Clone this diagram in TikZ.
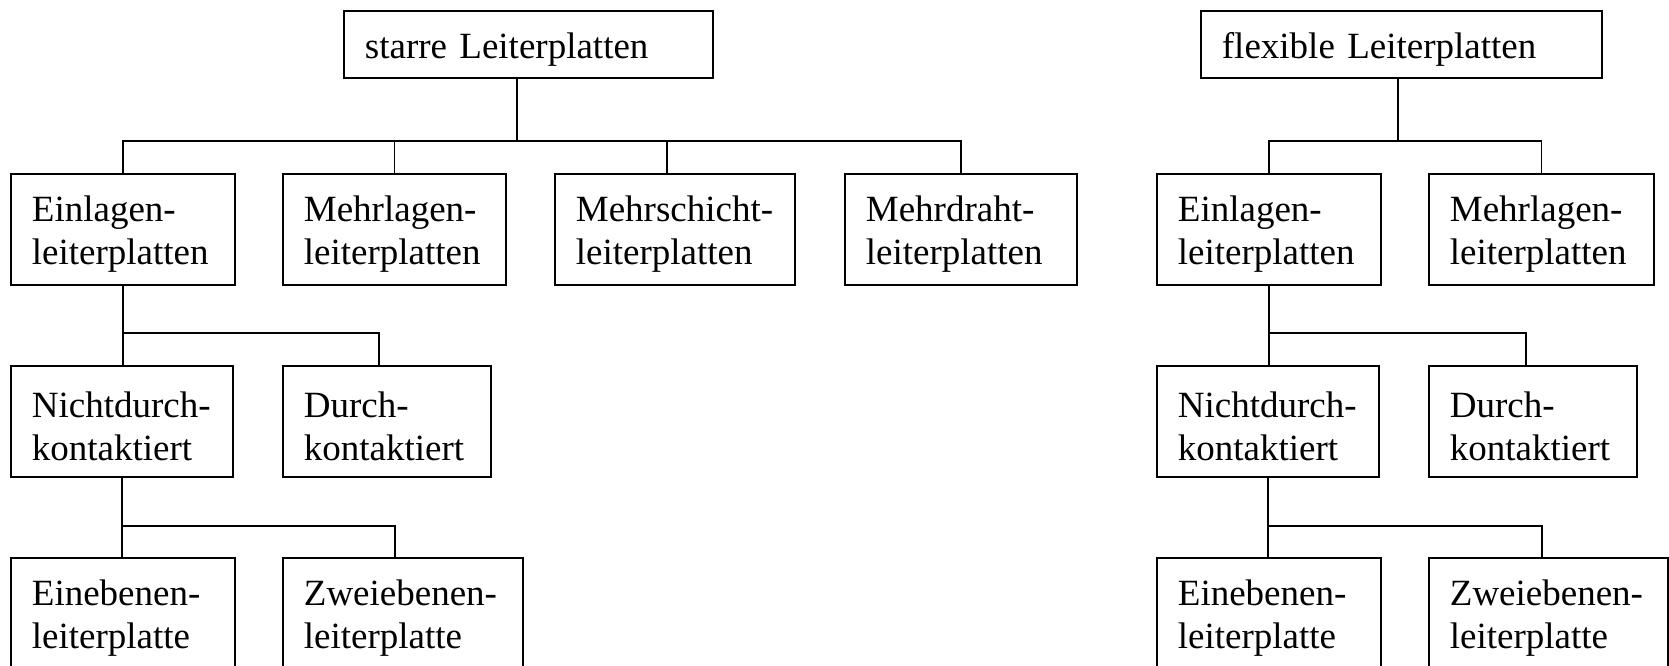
\documentclass[tikz,border=0pt]{standalone}
\usepackage{fontspec}
\setmainfont{Liberation Serif}
\usetikzlibrary{calc}

\tikzset{
  pbox/.style={draw, line width=0.9pt, anchor=north west, align=left,
    inner xsep=10.5pt, inner ysep=0pt, text width={(#1-42)*0.5pt},
    minimum height=55.5pt, font=\fontsize{18.5}{21.5}\selectfont,
    execute at begin node={\hyphenpenalty=10000\rule{0pt}{18pt}}},
  topbox/.style={pbox=#1, minimum height=33.5pt},
  link/.style={line width=0.9pt}
}

\begin{document}
\begin{tikzpicture}[x=0.5pt,y=-0.5pt]
    \useasboundingbox (0,0) rectangle (1669,665);
    \clip (0,0) rectangle (1669,665);

    % Draw the two root boxes
    \node[topbox=369] (starre) at (343,10) {starre Leiterplatten};
    \node[topbox=401] (flexible) at (1200,10) {flexible Leiterplatten};

    % Draw the first level
    \node[pbox=224] (einS) at (10,173) {Einlagen-\\leiterplatten};
    \node[pbox=223] (mehrlS) at (282,173) {Mehrlagen-\\leiterplatten};
    \node[pbox=240] (mehrs) at (554,173) {Mehrschicht-\\leiterplatten};
    \node[pbox=232] (mehrd) at (844,173) {Mehrdraht-\\leiterplatten};
    \node[pbox=224] (einF) at (1156,173) {Einlagen-\\leiterplatten};
    \node[pbox=225] (mehrlF) at (1428,173) {Mehrlagen-\\leiterplatten};

    % Draw the second level
    \node[pbox=222] (nichtS) at (10,365) {Nichtdurch-\\kontaktiert};
    \node[pbox=208] (durchS) at (282,365) {Durch-\\kontaktiert};
    \node[pbox=222] (nichtF) at (1156,365) {Nichtdurch-\\kontaktiert};
    \node[pbox=208] (durchF) at (1428,365) {Durch-\\kontaktiert};

    % Draw the third level
    \node[pbox=224] (einebS) at (10,557) {Einebenen-\\leiterplatte};
    \node[pbox=240] (zweiS) at (282,557) {Zweiebenen-\\leiterplatte};
    \node[pbox=224] (einebF) at (1156,557) {Einebenen-\\leiterplatte};
    \node[pbox=239] (zweiF) at (1428,557) {Zweiebenen-\\leiterplatte};

    % Bus lines
    \coordinate (bus0) at (0,141);
    \coordinate (bus1) at (0,333);
    \coordinate (bus2) at (0,526);

    % Connect the rigid tree
    \draw[link] ([xshift=-5.75pt]starre.south) -- ([xshift=-5.75pt]starre.south |- bus0);
    \draw[link] (einS.north) |- (bus0 -| mehrd.north) -- (mehrd.north);
    \draw[link] (mehrlS.north) -- (mehrlS.north |- bus0);
    \draw[link] ([xshift=-4pt]mehrs.north) -- ([xshift=-4pt]mehrs.north |- bus0);
    \draw[link] (einS.south) -- (einS.south |- nichtS.north);
    \draw[link] (einS.south |- bus1) -| ([xshift=-4pt]durchS.north);
    \draw[link] (nichtS.south) -- (nichtS.south |- einebS.north);
    \draw[link] (nichtS.south |- bus2) -| ([xshift=-4pt]zweiS.north);

    % Connect the flexible tree
    \draw[link] ([xshift=-1.75pt]flexible.south) -- ([xshift=-1.75pt]flexible.south |- bus0);
    \draw[link] (einF.north) |- (bus0 -| mehrlF.north) -- (mehrlF.north);
    \draw[link] (einF.south) -- (einF.south |- nichtF.north);
    \draw[link] (einF.south |- bus1) -| ([xshift=-3.5pt]durchF.north);
    \draw[link] (nichtF.south) -- (nichtF.south |- einebF.north);
    \draw[link] (nichtF.south |- bus2) -| ([xshift=-3.25pt]zweiF.north);
\end{tikzpicture}
\end{document}
